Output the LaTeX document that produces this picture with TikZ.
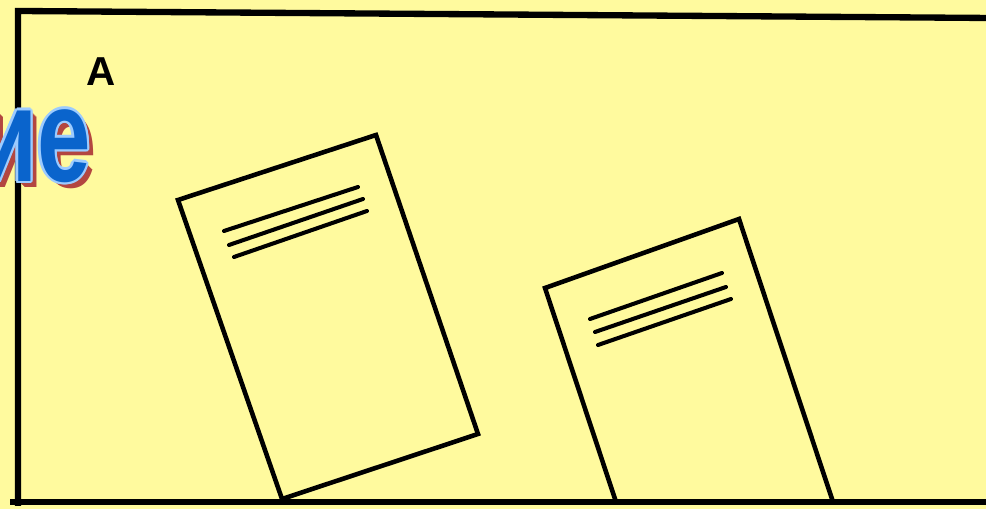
\documentclass[tikz,border=0pt]{standalone}
\usepackage{fontspec}
\setmainfont{Liberation Sans}
\usetikzlibrary{calc}
\definecolor{Paper}{HTML}{FFFA9E}
\definecolor{Ink}{HTML}{000000}
\definecolor{TitleBlue}{HTML}{0A64CC}
\definecolor{TitleRim}{HTML}{9CCBFF}
\definecolor{TitleShade}{HTML}{A01810}

\tikzset{
  frameline/.style={Ink,line width=3.6pt},
  sheet/.style={Ink,line width=2.6pt,line join=miter},
  textline/.style={Ink,line width=2.3pt,line cap=round},
  headfont/.style={font=\fontsize{76}{76}\selectfont\bfseries,inner sep=0pt,anchor=east,xscale=0.72}
}

\begin{document}
\begin{tikzpicture}[x=0.02cm,y=0.02cm]
    \useasboundingbox (0,0) rectangle (986,509);
    \fill[Paper] (0,0) rectangle (986,509);

    % frame
    \coordinate (ftl) at (18,498);
    \coordinate (ftr) at (990,491);
    \coordinate (fbl) at (18,3);
    \coordinate (bl) at (10,7);
    \coordinate (br) at (990,7);
    \draw[frameline] (ftr) -- (ftl) -- (fbl);
    \draw[frameline] (bl) -- (br);

    \node[font=\fontsize{23}{23}\selectfont\bfseries,inner sep=0pt] (labA) at (101,437) {A};

    % left sheet
    \coordinate (s1a) at (178,309);
    \coordinate (s1b) at (376,374);
    \coordinate (s1c) at (478,75);
    \coordinate (s1d) at (282,10);
    \draw[sheet] (s1a) -- (s1b) -- (s1c) -- (s1d) -- cycle;
    \draw[textline] (224,278) -- (358,322);
    \draw[textline] (229,264) -- (363,310);
    \draw[textline] (234,252) -- (367,298);

    % right sheet
    \coordinate (s2a) at (616,7);
    \coordinate (s2b) at (545,221);
    \coordinate (s2c) at (739,290);
    \coordinate (s2d) at (833,7);
    \draw[sheet] (s2a) -- (s2b) -- (s2c) -- (s2d);
    \draw[textline] (590,190) -- (722,236);
    \draw[textline] (595,177) -- (726,222);
    \draw[textline] (598,164) -- (731,210);

    % title fragment
    \coordinate (titlepos) at (91,363);
    \foreach \d in {1,...,6}
      \node[headfont,text=TitleShade!80] (shade\d) at ($(titlepos)+(\d,-\d)$) {ие};
    \foreach \a in {0,30,...,330}
      \node[headfont,text=TitleRim] (rim\a) at ($(titlepos)+(\a:2.5)$) {ие};
    \node[headfont,text=TitleBlue] (title) at (titlepos) {ие};
  \end{tikzpicture}
\end{document}
